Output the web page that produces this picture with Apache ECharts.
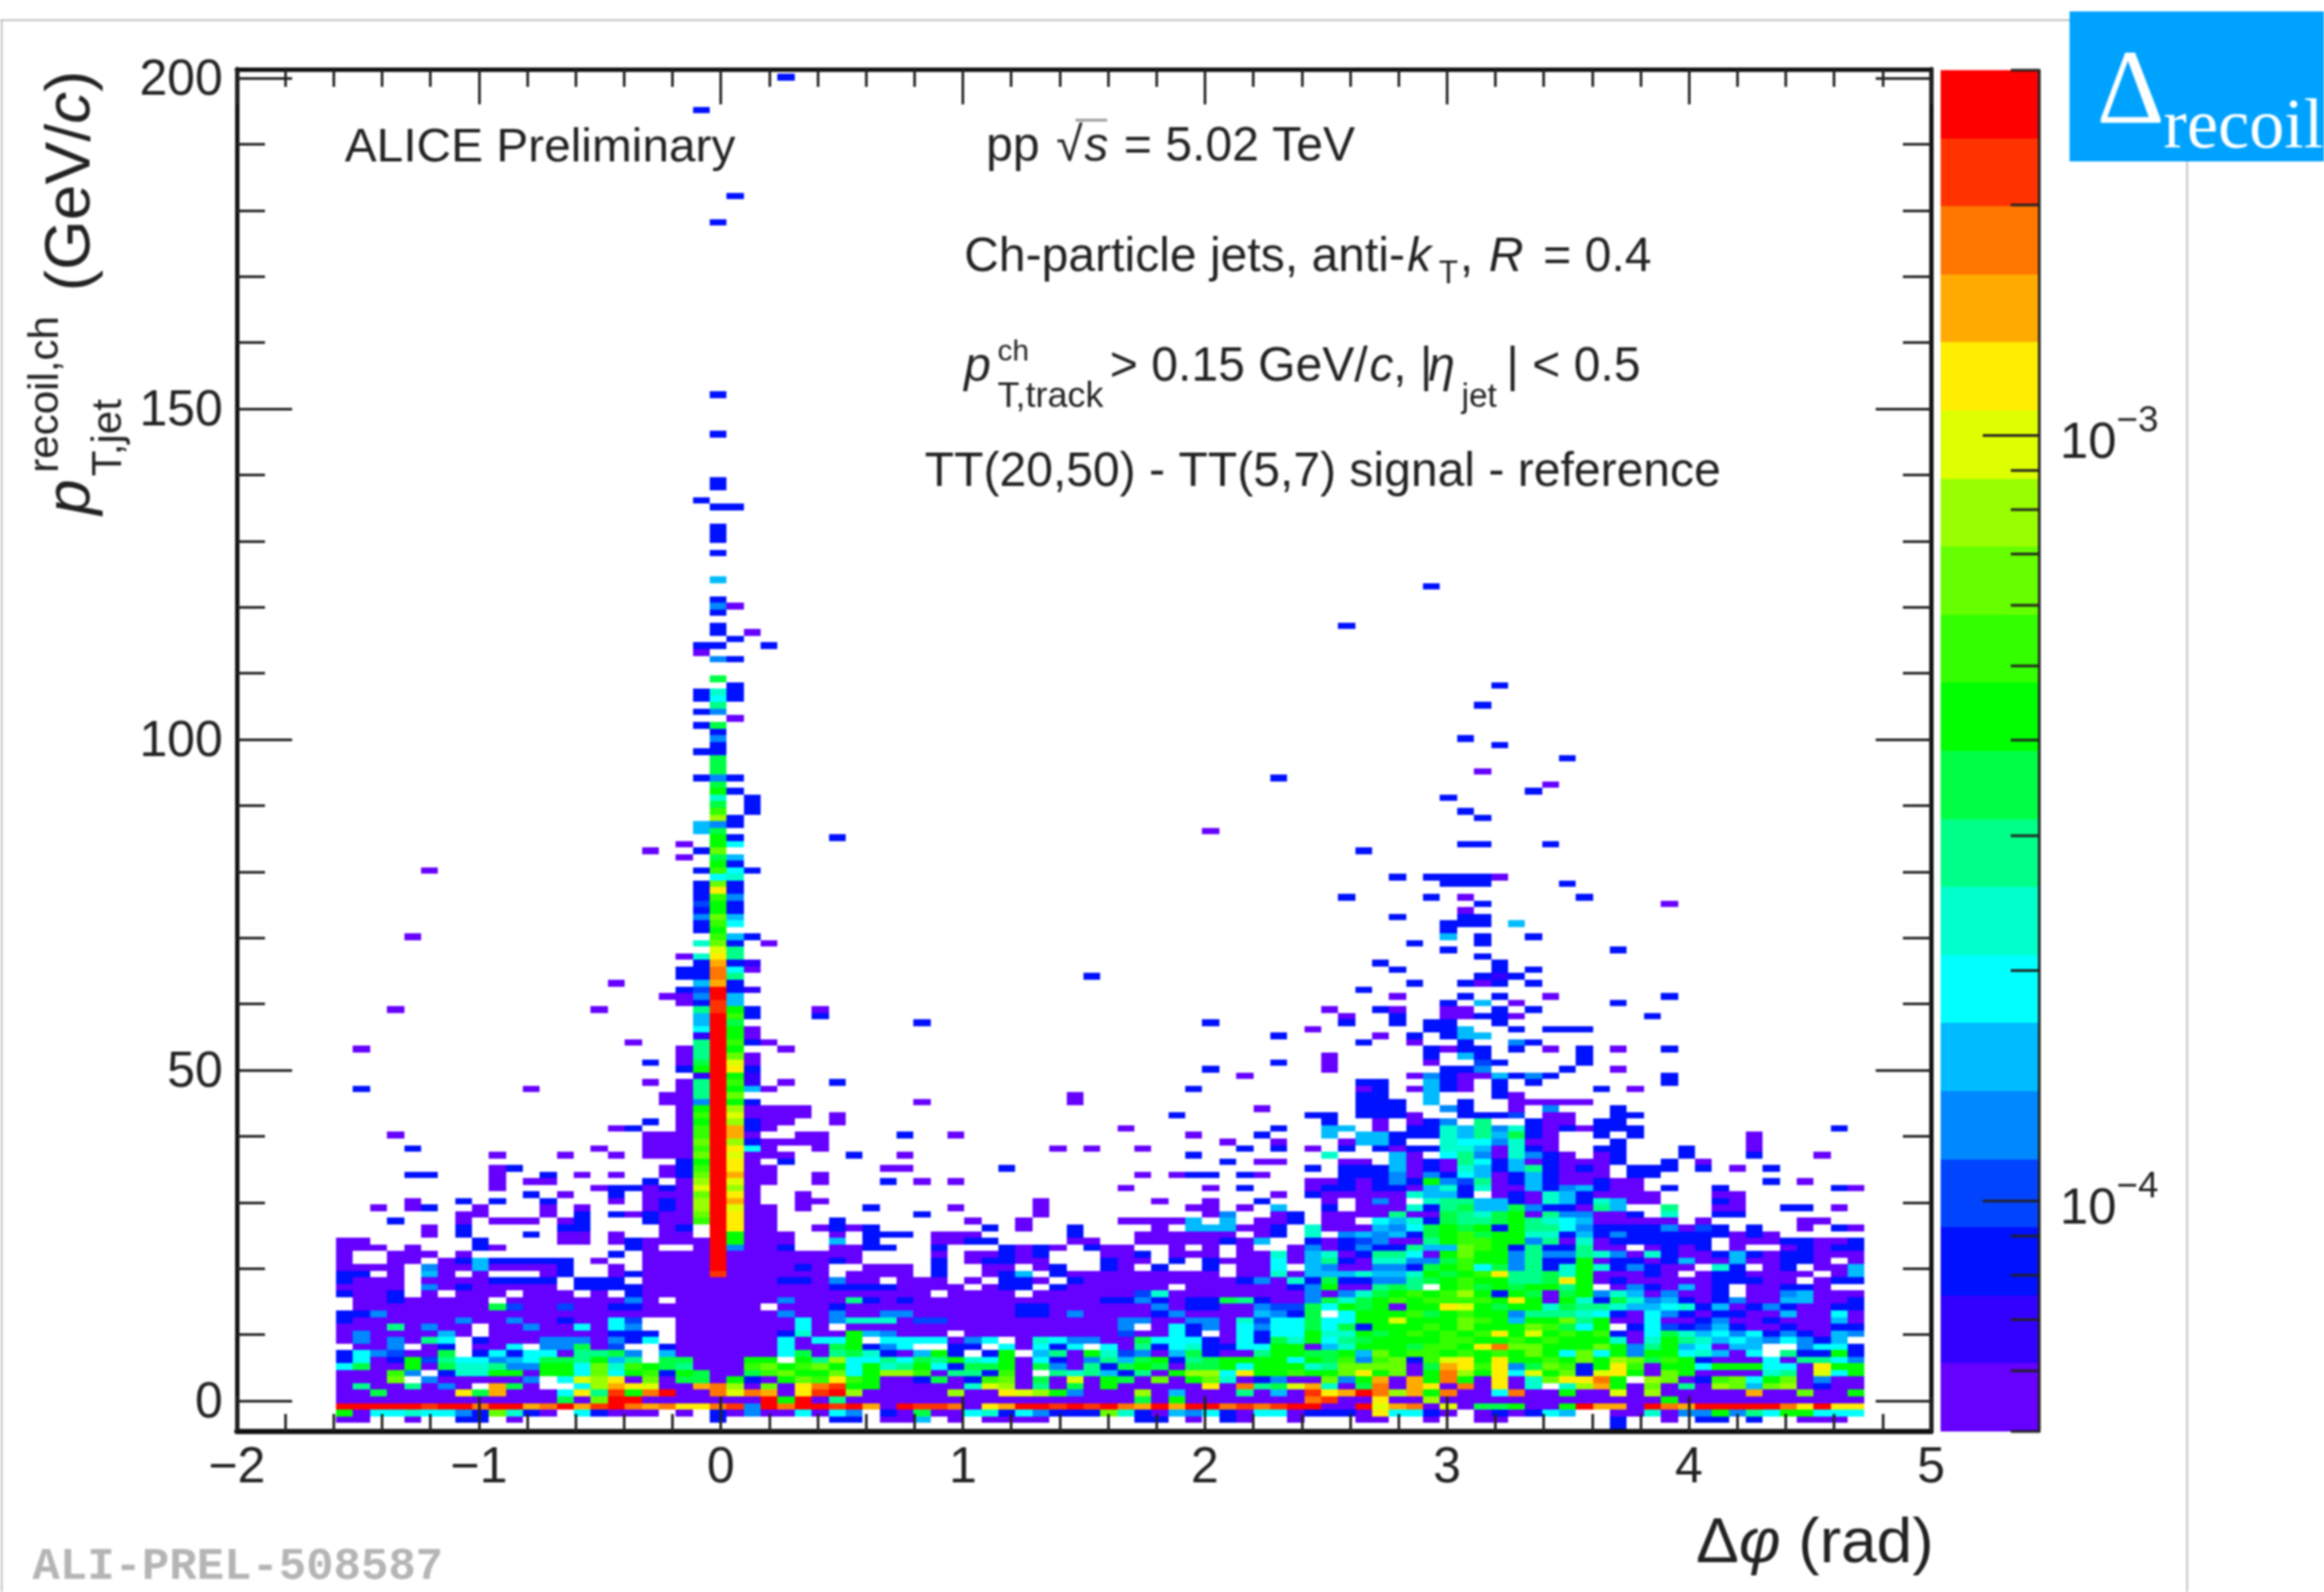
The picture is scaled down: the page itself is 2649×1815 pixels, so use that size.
<!DOCTYPE html>
<html>

<head>
  <meta charset="utf-8" />
  <title>ALICE Preliminary</title>
  <script src="https://cdn.jsdelivr.net/npm/echarts@6/dist/echarts.min.js"></script>
  <style>
    html, body { margin: 0; background: #fff; }
    #main { width: 2649px; height: 1815px; }
    #main canvas { filter: blur(0.8px); }
  </style>
</head>

<body>
  <div id="main"></div>
  <script type="text/javascript">
    // colour levels, lowest first, as in the palette of the z axis
    const levelKeys = 'abcdefghijklmnopqrst';
    const palette = ['#6600ff', '#3300ff', '#0011ff', '#0044ff', '#0088ff', '#00bbff', '#00ffff', '#00ffcc', '#00ff88', '#00ff44',
      '#00ff00', '#33ff00', '#66ff00', '#99ff00', '#ddff00', '#ffee00', '#ffaa00', '#ff7700', '#ff3300', '#ff0000'];

    // bins of the histogram
    const phiStart = -1.59, phiBin = 0.07018, ptShift = -0.34;

    // axis ticks and labels
    const yMajorTicks = [0, 50, 100, 150, 200];
    const yMinorTicks = [10, 20, 30, 40, 60, 70, 80, 90, 110, 120, 130, 140, 160, 170, 180, 190];
    const zRange = [5e-5, 3e-3];
    const zMajorTicks = [1e-3, 1e-4];
    const zMinorTicks = [3e-3, 2e-3, 9e-4, 8e-4, 7e-4, 6e-4, 5e-4, 4e-4, 3e-4, 2e-4, 9e-5, 8e-5, 7e-5, 6e-5, 5e-5];

    // pT bins 45 down to -3, 90 phi bins per row, grouped by ten ('.' = empty)
    const topDensePt = 45;
    const denseRows = [
      '.......... .........a aetkc..... ....a..... ...a...... .......... ccc.f.c..a aaaa...... ..........',
      '.......... .......... aktnaaaa.. .......... .......... ....a..... ccc..ec..a .e...c.... ..........',
      '.......... .......... altoaaaa.a .......... .........c .......cc. ccca..cccd .aa..cc... ..........',
      '.......... ........c. aktncaa..a .......... .......... ........c. .a.ace.i.. caa.cc.... ..........',
      '.......... ......ac.. altqca.... .......... ......a... .....c..ff .a.cchfieh cacaccc... ........c.',
      '...a...... ........aa altqa..aa. ...c..a... .......... a...c...f. ffccchfifj ca..c.c... ...a......',
      '.......... ........aa amtncaaaa. .......... .......... ..a..a...a ffc..hggeh aa...c.... ...a......',
      '....c..... .....a..aa altpga..a. .......... ..a.a..a.. ...c.c.a.c .cacchhfah ca..cc...c ...a......',
      '.........a ...a..a.aa amtoaaa... c..a...... .......... c.......h. ..fa.gieah eca.ac...c ...c...a..',
      '.......... .......... cktpa.c... .......... .......... ..c.aa...a a.facaigcf acaaac..c. a.........',
      '.........a c........a cltpaa.... ..aa.....c .......... .......c.c ccfacahfcf icaca.ccc. c.a.c.....',
      '....cc...a ..c.a.a..a cmtqaa..a. .......... .......a.a cc.ca....c cceaecgfac fcaaa.cc.. ..........',
      '.........a .aa.....c. antoaa..a. ..c.a.a... .......... .......aac aceckediac fcaacaa... ....c.a...',
      '.........a .....accac aotna..... .......... ......a... .a.c...acc accafhchaa fcefcaa.c. .c......ca',
      '.......... .c.a..c.aa amtpa..a.. .......... .......... .....a.caa aaahffc.ac ahfcaaaa.. .aa.......',
      '....a..c.c ..c...a.ac antqa..aa. .......... .a......a. .a..c...a. aea.hiiffc ahfchfaa.. .ca.......',
      '..a.ac..a. ..a.a...ac antoaa.a.. .c....a... .a........ aa.a.f..c. aaahcijffj eccaif..i. .aa..cc.a.',
      '.......aa. ..a.c.caca amtpaa.... ....c..... .a........ .ae..ac.aa aaiaajihjk aieeaac.h. .cc.......',
      '...c...a.a aa.ac...ca altpaa...c .......a.. a.....aaaa f.f.aac.aa .gfhcjiijk ihgfaaaaa. a.....aa..',
      '.....a.c.. ...cc....a c.tpaa..ac ac......c. a..c....a. fffaac.haa afegjkjkck iigeccccea dc.c..a.ca',
      '.....a.c.. .c.aa.a..a a.tkaaa..a .ccc.aaa.. ...c...aaa aaa.ac.h.e fefcjkljkk hhcfcecccc ccaca.....',
      'aa......c. ...aa.acaa aatkaaa..f .c...aacc. ...aa..aaa aacaf..cac deaaikllkk eiahaccccc c.aaaccaac',
      'aaa.a...ca .......ca. .ateaac..a acc..c...c aca.caa..a .a.a..aeac ecciffmlkc icciaa.aca c.a..acacc',
      'a..aaa.a.. ......c.aa aataaaaaaa a....a.aac ac...aac.a aa.aahafha ciigakmkke ieeiheahca acfcaccaaa',
      'a..aa.acfc cccc.a..aa aataaaaaac a....c.acc aa...caa.c .caaagafic ahheejlkke icckaccacf aafaacca.a',
      'aaaa.eaafa aaac..a.aa aataaaaca. .aaa.c..aa .ac..ca.c. .c.aag.fea aeecjklgje ichkhcecaa .hc.ac.aaf',
      'cc.a.fa.a. ..ac..acaa aasaaaaaa. aaaa.c..ac f.caaaaaaa aa.aahafff hffhkjklpi ijhkaaaca. accaaaa.af',
      'caaa.aaaac ccc.ccc.aa aaaaaaccae aa.aaa.a.c ca.caaaaaa aaaceahcjc ceeijklkki ijpkacaaaa acccaa.acc',
      'aaaa.eacaa aaa.ccccaa aaaaaaaaac cccaaaa.ac c.caaaaaa. aaaaaaceka aiji.kljkj kkik.aecaf ac.aacca..',
      'caac.a.aaa .aaa.a.caa aaaaaaaaaa aaaaa.aaaa .aaaaaadha aaaaaaaeae hjklklnkck jajkehfaea ac.aaefaaa',
      '.aacaaaaa. aaaaaaaea. aaaaaaeaaa icacaaaaaa aaaaacceca ccjicaaejh jklkllllkp kakhcjhefc aceaaffaac',
      '.aaaaaaaaj daadaaccaa aaaaa.aaac aaaaaaaaaa ccaaaaaaea ccaaeddjgk jkakkpokjk khjiihffgh cfacecaacc',
      'cceaaaaaaa aaaaaaaaaa aaaaaaeaae aaeeaaaaaa ccaeaaaace aaaafecj.g kkkljklkke iiihgcagec accaafaaga',
      'caaaaaaeaa eaacaagd.. aaaaaaagae hhhaddaaaa aaaaaaeeaa eeahdggjgg kkokkkmlkf kkmikaagaa ceaacaaafa',
      'aaaiaeaa.a aeaagage.. aaaaaaaga. aaaaaaaaaa aaaaaae.ag ceageggjgj ckkklkmkkk mljgk.cgdc dfcaacaacc',
      'aeaaaafa.a aaaaaaccc. aaaaaachaa kfeaaa.aaa aaaaaadaag c.agcggkhh kjklklklpk oklklcagjh fgegcecafe',
      'aeaeaig.ca aaeeeaecg. aaaaaagagg k.ggggaeg. ahgeeaajgg gcagcjhkgi jkkkkllkkl klkkkhahki hfgfegecf.',
      '.aae.ac.aa g.eejad..c aaaaaagaaj kceg..cc.g agcg.gaicg hccggkkafh kkkjllkprm mkkkmkeikf gaff..eggc',
      'cgedaaj.cg cggaiije.f aaaaaagjai jhcafkc.ck .fiakhdeaf jcaaikkjjk fmkllklklk mkgmgkekkg hfag.icckc',
      'cgackdigge fgjjikfi.j jaaakk.kin ggigjikhgk agcaeifjkc ijkkkkgkjl elmclopkpk klkmknmjlk caaagaiige',
      'gjaakajhhi eekkgmhlkj iaaalmklmk gkhikgcjjk ajeaicjkja jjkgkkkhim mmmajqplpe jmlckplakk gkkkggapkk',
      'aaale.chhk kakkgmgklc kjaajlmkkm gknnlaiicl a.ihifciak nngpkklkkm pkmakrnkpg okmcopkamk aaaahiaogk',
      'aaam.eaaaa ae.gonpama jjakcakmlp lkaacjaclm ajaoakjama kmhaceaame kqaqkrkapa hmpprk.nma clmgkmaeaa',
      'aiaaiaea.q ja..gnqpoa aqrnamaprs kkaaaaahon aiajakaaaa aparijoqha jraqparapa h.hnqkamai anmfmnacaa',
      'aajaaaapjq aaagpiskrt aarorqapst naaaaanaap onkeaaanaf aaaiafaspq trnqkraagr aakaaoanaa aaaqaamaak',
      'aaaaaaaaaa aaajamttaa aaaaatktai aaaaaaaaaa aaaaaaajak aaaaaaarsa apaanaaaaa aaaaaaaaka aaaaaaaaaa',
      'tttttsttrt tqrtqstrqr pprsetrtts tqatssrapq ttststrqtq ttrsrsttaa toqraoajjk aaktqqatrq tttttrptpp',
      'kagghggecm hca.gcaaa. a.caeaagag e.cajaaghc gecccmhcaf egcaggaccc apggca.aca cgf..aahae ekeigkkggg',
      'aa..a..cc. a......... ..c......c c.aaf.a.aa aa.....cc. a.ca..a... aa..a..aa. .....c..a. cc.c..aaa.'
    ];

    // the three central phi bins, pT 46 upwards
    const peakFirstPt = 46;
    const peakLeft = 'iiibkjiiibgfficedfccch.h.ccecdccc.c..c..ff......c...c...c.c.cc.....ac';
    const peakMid = 'tttttttttttttssttqrrqpomlklmkklpmglkjmkkjenljhkjejjjccecj.eigh.j..e.c.cc.cec..f';
    const peakRight = 'mklkpomklkkjlkffccigciicf.gfccecchgcf.gc.cc...c.c........a..ccc...c..c....a';

    // everything else above pT 45: [phi bin, pT, level]
    const leftCells = [[5, 80, 'a'], [4, 70, 'a'], [3, 59, 'a'], [1, 53, 'a'], [1, 47, 'c'], [11, 47, 'a'], [18, 83, 'a'], [20, 84, 'a'],
      [20, 82, 'a'], [16, 63, 'a'], [19, 61, 'a'], [15, 59, 'a'], [17, 54, 'a'], [18, 51, 'c'], [18, 48, 'a'], [20, 67, 'a'], [20, 65, 'c'],
      [20, 64, 'c'], [20, 62, 'c'], [20, 61, 'a'], [20, 60, 'a'], [20, 53, 'a'], [20, 52, 'a'], [20, 51, 'a'], [20, 50, 'c'], [20, 48, 'a'],
      [20, 47, 'a'], [20, 46, 'a'], [19, 46, 'a']];
    const nearPeakCells = [[24, 91, 'c'], [24, 90, 'c'], [24, 89, 'c'], [24, 80, 'c'], [24, 70, 'c'], [24, 66, 'b'], [24, 65, 'a'], [24, 62, 'b'],
      [24, 59, 'c'], [24, 58, 'c'], [24, 56, 'a'], [24, 55, 'a'], [24, 54, 'c'], [24, 52, 'a'], [24, 51, 'a'], [24, 50, 'c'], [24, 49, 'b'],
      [24, 48, 'b'], [24, 47, 'f'], [25, 69, 'a'], [25, 54, 'a'], [25, 47, 'a'], [26, 53, 'a'], [26, 48, 'a'], [28, 59, 'a'], [28, 58, 'c'],
      [29, 85, 'c'], [29, 48, 'c'], [34, 57, 'c'], [24, 116, 'a'], [25, 114, 'c'], [21, 136, 'c'], [22, 135, 'c'], [23, 135, 'c'], [22, 128, 'c'],
      [22, 130, 'c'], [22, 131, 'c'], [22, 132, 'c'], [22, 138, 'c'], [22, 139, 'c'], [22, 146, 'c'], [22, 152, 'c'], [22, 178, 'c'], [23, 182, 'c'],
      [21, 195, 'c'], [26, 200, 'c']];
    const rightCells = [[43, 46, 'a'], [44, 64, 'c'], [51, 86, 'a'], [60, 83, 'c'], [59, 76, 'c'], [60, 62, 'c'], [61, 66, 'c'], [59, 57, 'c'],
      [55, 55, 'c'], [51, 57, 'c'], [55, 51, 'c'], [51, 50, 'c'], [58, 52, 'a'], [58, 51, 'a'], [58, 50, 'a'], [53, 49, 'a'], [50, 47, 'c'],
      [61, 48, 'c'], [61, 47, 'c'], [75, -4, 'c'], [64, 123, 'c'], [59, 117, 'c'], [68, 108, 'c'], [67, 105, 'c'], [66, 100, 'c'], [68, 99, 'c'],
      [72, 97, 'c'], [67, 95, 'a'], [71, 93, 'a'], [70, 92, 'c'], [65, 91, 'c'], [66, 89, 'c'], [67, 88, 'c'], [66, 84, 'c'], [67, 84, 'c'],
      [71, 84, 'c'], [55, 94, 'c'], [72, 78, 'c'], [65, 78, 'c'], [66, 78, 'c'], [67, 78, 'c'], [62, 79, 'c'], [64, 79, 'c'], [65, 79, 'c'],
      [66, 79, 'c'], [67, 79, 'c'], [68, 79, 'a'], [64, 76, 'c'], [66, 76, 'a'], [73, 76, 'c'], [67, 75, 'c'], [78, 75, 'a'], [66, 74, 'a'],
      [62, 73, 'c'], [66, 73, 'c'], [67, 73, 'c'], [65, 72, 'c'], [66, 72, 'c'], [67, 72, 'c'], [69, 72, 'f'], [65, 71, 'c'], [65, 70, 'f'],
      [67, 70, 'c'], [70, 70, 'c'], [63, 69, 'c'], [67, 69, 'c'], [65, 68, 'c'], [75, 68, 'c'], [67, 67, 'c'], [68, 66, 'c'], [62, 65, 'c'],
      [68, 65, 'c'], [70, 65, 'c'], [67, 64, 'c'], [68, 64, 'b'], [69, 64, 'c'], [63, 63, 'c'], [66, 63, 'c'], [67, 63, 'a'], [68, 63, 'c'],
      [70, 63, 'c'], [62, 61, 'a'], [66, 61, 'c'], [68, 61, 'c'], [71, 61, 'a'], [78, 61, 'c'], [65, 60, 'c'], [67, 60, 'f'], [69, 60, 'a'],
      [75, 60, 'c'], [58, 59, 'a'], [61, 59, 'c'], [62, 59, 'a'], [65, 59, 'a'], [66, 59, 'a'], [68, 59, 'c'], [70, 59, 'c'], [59, 58, 'a'],
      [62, 58, 'c'], [65, 58, 'a'], [66, 58, 'a'], [67, 58, 'c'], [68, 58, 'c'], [69, 58, 'a'], [77, 58, 'c'], [62, 57, 'c'], [64, 57, 'c'],
      [65, 57, 'c'], [68, 57, 'c'], [57, 56, 'a'], [64, 56, 'c'], [65, 56, 'c'], [66, 56, 'f'], [69, 56, 'c'], [71, 56, 'c'], [72, 56, 'c'],
      [73, 56, 'c'], [61, 55, 'a'], [63, 55, 'c'], [65, 55, 'c'], [66, 55, 'f'], [67, 55, 'f'], [60, 54, 'c'], [63, 54, 'a'], [66, 54, 'c'],
      [69, 54, 'e'], [70, 54, 'c'], [64, 53, 'c'], [65, 53, 'a'], [66, 53, 'c'], [67, 53, 'c'], [69, 53, 'c'], [71, 53, 'a'], [73, 53, 'c'],
      [75, 53, 'a'], [78, 53, 'c'], [64, 52, 'c'], [66, 52, 'f'], [67, 52, 'c'], [73, 52, 'c'], [64, 51, 'a'], [67, 51, 'd'], [68, 51, 'c'],
      [73, 51, 'c'], [65, 50, 'c'], [66, 50, 'c'], [67, 50, 'e'], [72, 50, 'c'], [75, 50, 'a'], [63, 49, 'a'], [64, 49, 'e'], [65, 49, 'c'],
      [66, 49, 'a'], [67, 49, 'a'], [68, 49, 'f'], [69, 49, 'c'], [70, 49, 'e'], [71, 49, 'c'], [78, 49, 'c'], [60, 48, 'c'], [64, 48, 'f'],
      [65, 48, 'c'], [66, 48, 'a'], [68, 48, 'c'], [70, 48, 'c'], [78, 48, 'c'], [60, 47, 'a'], [63, 47, 'a'], [64, 47, 'f'], [65, 47, 'c'],
      [66, 47, 'a'], [68, 47, 'c'], [74, 47, 'c'], [76, 47, 'a'], [60, 46, 'c'], [61, 46, 'c'], [64, 46, 'f'], [68, 46, 'c'], [69, 46, 'a']];

    // turn the tables into [phi, pT, level]
    function cell(col, pt, key) {
      return [phiStart + col * phiBin, pt + ptShift, levelKeys.indexOf(key)];
    }
    let cells = [];
    denseRows.forEach(function (text, r) {
      text.replace(/ /g, '').split('').forEach(function (key, col) {
        if (key !== '.') cells.push(cell(col, topDensePt - r, key));
      });
    });
    [[21, peakLeft], [22, peakMid], [23, peakRight]].forEach(function (peak) {
      peak[1].split('').forEach(function (key, i) {
        if (key !== '.') cells.push(cell(peak[0], peakFirstPt + i, key));
      });
    });
    leftCells.concat(nearPeakCells, rightCells).forEach(function (c) {
      cells.push(cell(c[0], c[1], c[2]));
    });

    // bands of the colour bar
    const zLow = Math.log10(zRange[0]), zHigh = Math.log10(zRange[1]);
    let bands = palette.map(function (c, i) {
      return [zLow + (zHigh - zLow) * i / palette.length, zLow + (zHigh - zLow) * (i + 1) / palette.length, i];
    });
    let zTicks = zMajorTicks.map(function (z) { return [Math.log10(z), 64]; })
      .concat(zMinorTicks.map(function (z) { return [Math.log10(z), 32]; }));

    const textColor = '#222';
    const font = 'Liberation Sans';
    const frameLine = { lineStyle: { color: '#111', width: 5 } };

    function txt(text, x, base, size, extra) {
      return {
        type: 'text', z: 20,
        style: Object.assign({
          text: text, x: x, y: base - 0.26 * size,
          fontFamily: font, fontSize: size, fill: textColor,
          textAlign: 'left', textVerticalAlign: 'middle'
        }, extra || {})
      };
    }
    // rotated 90 degrees, reads bottom to top
    function upTxt(text, baseX, startY, size, extra) {
      return {
        type: 'text', z: 20, x: baseX - 0.33 * size, y: startY, rotation: Math.PI / 2,
        style: Object.assign({
          text: text, x: 0, y: 0, fontFamily: font, fontSize: size, fill: textColor,
          textAlign: 'left', textVerticalAlign: 'middle'
        }, extra || {})
      };
    }
    function pageLine(x1, y1, x2, y2) {
      return { type: 'line', z: 1, shape: { x1: x1, y1: y1, x2: x2, y2: y2 }, style: { stroke: '#bfbfbf', lineWidth: 2 } };
    }
    const italic = { fontStyle: 'italic' };

    const overlay = [
      pageLine(0, 23, 2360, 23),
      pageLine(2, 23, 2, 1815),
      pageLine(2493, 184, 2493, 1815),
      { type: 'rect', z: 10, shape: { x: 2359, y: 13, width: 290, height: 171 }, style: { fill: '#00a2ff' } },
      txt('Δ', 2390, 140, 120, { fill: '#fff', fontFamily: 'Liberation Serif' }),
      txt('recoil', 2466, 168, 80, { fill: '#fff', fontFamily: 'Liberation Serif' }),

      txt('ALICE Preliminary', 393, 183, 54.5),
      txt('pp', 1124, 182, 54.8),
      txt('√', 1204, 182, 54.8),
      { type: 'line', z: 20, shape: { x1: 1226, y1: 137, x2: 1262, y2: 137 }, style: { stroke: '#999', lineWidth: 3 } },
      txt('s', 1236, 182, 54.8, italic),
      txt('= 5.02 TeV', 1281, 182, 54.8),

      txt('Ch-particle jets, anti-', 1099, 308, 54.8),
      txt('k', 1604, 308, 54.8, italic),
      txt('T', 1640, 322, 36),
      txt(',', 1664, 308, 54.8),
      txt('R', 1697, 308, 54.8, italic),
      txt('= 0.4', 1759, 308, 54.8),

      txt('p', 1099, 433, 54.8, italic),
      txt('ch', 1137, 410, 34),
      txt('T,track', 1137, 463, 41),
      txt('> 0.15 GeV/', 1265, 433, 54.8),
      txt('c', 1561, 433, 54.8, italic),
      txt(', |', 1588, 433, 54.8),
      txt('η', 1628, 433, 54.8, italic),
      txt('jet', 1666, 463, 38),
      txt('| < 0.5', 1717, 433, 54.8),

      txt('TT(20,50) - TT(5,7) signal - reference', 1054, 553, 54.8),

      upTxt('p', 106, 587, 73, italic),
      upTxt('recoil,ch', 69, 539, 48),
      upTxt('T,jet', 141, 543, 48),
      upTxt('(GeV/{i|c})', 106, 332, 73, { rich: { i: { fontStyle: 'italic', fontSize: 73, fontFamily: font, fill: textColor } } }),

      txt('Δ{i|φ} (rad)', 2204, 1780, 73, { textAlign: 'right', rich: { i: { fontStyle: 'italic', fontSize: 73, fontFamily: font, fill: textColor } } }),
      txt('ALI-PREL-508587', 37, 1800, 52, { fontFamily: 'Liberation Mono', fontWeight: 'bold', fill: '#b5b5b5' })
    ];

    function xAxisFrame(position, labels) {
      return {
        type: 'value', gridIndex: 0, position: position, min: -2, max: 5, interval: 1, z: 5,
        axisLine: { show: true, onZero: false, lineStyle: { color: '#111', width: position === 'bottom' ? 6 : 5 } },
        axisTick: { inside: true, length: 40, lineStyle: { color: '#222', width: 3 } },
        minorTick: { show: true, splitNumber: 5, length: 20, lineStyle: { color: '#222', width: 3 } },
        splitLine: { show: false },
        axisLabel: {
          show: labels, margin: 14, fontSize: 57, fontFamily: font, color: textColor,
          formatter: function (v) { return String(v).replace('-', '−'); }
        }
      };
    }
    function yAxisFrame(position, ticks, length, labels) {
      return {
        type: 'value', gridIndex: 0, position: position, min: -4.64, max: 201.33, z: 5,
        axisLine: { show: true, onZero: false, lineStyle: frameLine.lineStyle },
        axisTick: { inside: true, length: length, customValues: ticks, lineStyle: { color: '#222', width: 3 } },
        splitLine: { show: false },
        axisLabel: {
          show: labels, customValues: yMajorTicks, margin: 16,
          formatter: '{v|{value}}',
          rich: { v: { fontSize: 57, fontFamily: font, color: textColor, padding: [7, 0, 0, 0] } }
        }
      };
    }

    var myChart = echarts.init(document.getElementById('main'));
    var option = {
      backgroundColor: '#fff',
      animation: false,
      grid: [
        { left: 270, top: 79, width: 1931, height: 1553 },
        { left: 2212, top: 80, width: 112, height: 1552 }
      ],
      xAxis: [
        xAxisFrame('bottom', true),
        xAxisFrame('top', false),
        { type: 'value', gridIndex: 1, min: 0, max: 1, show: false }
      ],
      yAxis: [
        yAxisFrame('left', yMajorTicks, 63, true),
        yAxisFrame('right', yMajorTicks, 63, false),
        yAxisFrame('left', yMinorTicks, 32, false),
        yAxisFrame('right', yMinorTicks, 32, false),
        {
          type: 'value', gridIndex: 1, position: 'right', min: zLow, max: zHigh, z: 5,
          axisLine: { show: true, onZero: false, lineStyle: { color: '#222', width: 3 } },
          axisTick: { show: false },
          splitLine: { show: false },
          axisLabel: {
            customValues: [-3, -4], margin: 24, fontSize: 58, fontFamily: font, color: textColor,
            padding: [20, 0, 0, 0],
            formatter: function (v) { return '{b|10}{s|−' + (-v) + '}'; },
            rich: {
              b: { fontSize: 58, fontFamily: font, color: textColor },
              s: { fontSize: 42, fontFamily: font, color: textColor, padding: [0, 0, 52, 0] }
            }
          }
        }
      ],
      series: [
        {
          type: 'custom', xAxisIndex: 0, yAxisIndex: 0, data: cells, silent: true, progressive: 0, clip: true,
          encode: { x: 0, y: 1 },
          renderItem: function (params, api) {
            let a = api.coord([api.value(0), api.value(1)]);
            let b = api.coord([api.value(0) + phiBin, api.value(1) + 1]);
            let x = Math.round(a[0]), y = Math.round(b[1]);
            return {
              type: 'rect',
              shape: { x: x, y: y, width: Math.round(b[0]) - x, height: Math.round(a[1]) - y },
              style: { fill: palette[api.value(2)] }
            };
          }
        },
        {
          type: 'custom', xAxisIndex: 2, yAxisIndex: 4, data: bands, silent: true,
          encode: { y: [0, 1] },
          renderItem: function (params, api) {
            let a = api.coord([0, api.value(0)]);
            let b = api.coord([1, api.value(1)]);
            return {
              type: 'rect',
              shape: { x: a[0], y: Math.round(b[1]), width: b[0] - a[0], height: Math.round(a[1]) - Math.round(b[1]) },
              style: { fill: palette[api.value(2)] }
            };
          }
        },
        {
          type: 'custom', xAxisIndex: 2, yAxisIndex: 4, data: zTicks, silent: true, z: 4,
          encode: { y: 0 },
          renderItem: function (params, api) {
            let p = api.coord([1, api.value(0)]);
            return {
              type: 'line',
              shape: { x1: p[0], y1: p[1], x2: p[0] - api.value(1), y2: p[1] },
              style: { stroke: '#222', lineWidth: 3 }
            };
          }
        }
      ],
      graphic: { elements: overlay }
    };
    myChart.setOption(option);
  </script>
</body>

</html>
